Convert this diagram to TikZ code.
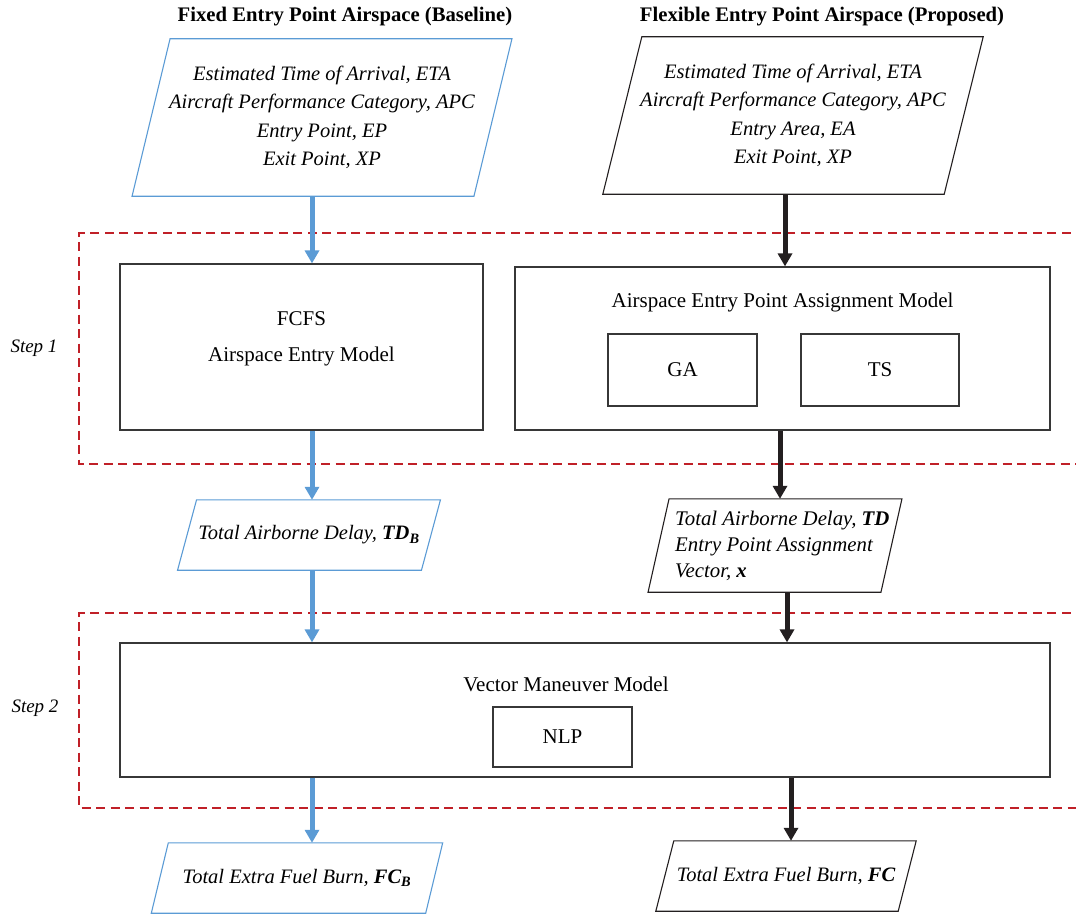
\documentclass[tikz,border=0pt]{standalone}
\usepackage{fontspec}
\setmainfont{Liberation Serif}
\usetikzlibrary{arrows.meta}
\definecolor{blueA}{RGB}{91,155,213}
\definecolor{redD}{RGB}{192,32,40}
\definecolor{darkA}{RGB}{35,31,32}
\definecolor{boxgray}{RGB}{55,55,55}
\newcommand\paradraw[3]{%
  \draw[#1] ([xshift=#3]#2.north west) -- ([xshift=#3]#2.north east)
    -- ([xshift=-#3]#2.south east) -- ([xshift=-#3]#2.south west) -- cycle;}
\tikzset{
  txt/.style={font=\fontsize{21}{28.5}\selectfont, inner sep=0pt, align=center},
  ttl/.style={font=\fontsize{20.7}{24}\selectfont\bfseries, inner sep=0pt},
  steplbl/.style={font=\fontsize{19}{22}\selectfont\itshape, inner sep=0pt},
  pbox/.style={txt, font=\fontsize{20.5}{28.5}\selectfont\itshape},
  mbox/.style={txt, draw=boxgray, line width=1.2pt},
  bluepara/.style={draw=blueA, line width=1.1pt},
  darkpara/.style={draw=darkA, line width=1.1pt},
  stepframe/.style={draw=redD, line width=2.5pt, dash pattern=on 9pt off 5.5pt},
  flowB/.style={draw=blueA, line width=5pt, -{Triangle[width=14pt,length=13pt]}},
  flowK/.style={draw=darkA, line width=5pt, -{Triangle[width=14pt,length=13pt]}},
}
\begin{document}
\begin{tikzpicture}[x=1pt,y=-1pt]
\useasboundingbox (0,0) rectangle (1076,915);
% step frames
\draw[stepframe] (1085,233) -- (79,233) -- (79,464) -- (1085,464);
\draw[stepframe] (1085,613) -- (79,613) -- (79,808) -- (1085,808);
\node[steplbl] (s1) at (34,348) {Step 1};
\node[steplbl] (s2) at (35,708) {Step 2};
% titles
\node[ttl] (t1) at (345,17) {Fixed Entry Point Airspace (Baseline)};
\node[ttl] (t2) at (822,17) {Flexible Entry Point Airspace (Proposed)};
% inputs
\node[pbox, minimum width=341.5pt, minimum height=157pt] (in1) at (322,117.5)
  {Estimated Time of Arrival, ETA\\Aircraft Performance Category, APC\\Entry Point, EP\\Exit Point, XP};
\paradraw{bluepara}{in1}{19pt}
\node[pbox, minimum width=341pt, minimum height=157pt] (in2) at (793,115.5)
  {Estimated Time of Arrival, ETA\\Aircraft Performance Category, APC\\Entry Area, EA\\Exit Point, XP};
\paradraw{darkpara}{in2}{19.5pt}
% step 1 models
\node[mbox, minimum width=363pt, minimum height=166pt] (fcfs) at (301.5,347) {};
\node[txt] (fcfst) at (301.5,339) {FCFS\\[8pt]Airspace Entry Model};
\node[mbox, minimum width=535pt, minimum height=163pt] (aepam) at (782.5,348.5) {};
\node[txt] (aepamt) at (782.5,302) {Airspace Entry Point Assignment Model};
\node[mbox, minimum width=149pt, minimum height=72pt] (ga) at (682.5,370) {GA};
\node[mbox, minimum width=158pt, minimum height=72pt] (ts) at (880,370) {TS};
% intermediate outputs
\node[pbox, minimum width=243.5pt, minimum height=70pt] (tdb) at (309,535)
  {Total Airborne Delay, \textbf{TD\textsubscript{B}}};
\paradraw{bluepara}{tdb}{9.5pt}
\node[minimum width=232.5pt, minimum height=93pt, inner sep=0pt] (td) at (775,545.5) {};
\paradraw{darkpara}{td}{10.5pt}
\node[pbox, align=left, anchor=west, font=\fontsize{20.8}{26}\selectfont\itshape] (tdt) at (675,546)
  {Total Airborne Delay, \textbf{TD}\\Entry Point Assignment\\Vector, \textbf{x}};
% step 2 model
\node[mbox, minimum width=930pt, minimum height=134pt] (vmm) at (585,710) {};
\node[txt] (vmmt) at (566,684) {Vector Maneuver Model};
\node[mbox, minimum width=139pt, minimum height=60pt] (nlp) at (562.5,737) {NLP};
% final outputs
\node[pbox, minimum width=274pt, minimum height=70pt] (fcb) at (297,878)
  {Total Extra Fuel Burn, \textbf{FC\textsubscript{B}}};
\paradraw{bluepara}{fcb}{8.5pt}
\node[pbox, minimum width=242pt, minimum height=70pt] (fc) at (786,876)
  {Total Extra Fuel Burn, \textbf{FC}};
\paradraw{darkpara}{fc}{9pt}
% column coordinates
\coordinate (cL) at (312,0);
\coordinate (cR1) at (785,0);
\coordinate (cR2) at (780,0);
\coordinate (cR3) at (787,0);
\coordinate (cR4) at (791,0);
% connectors
\draw[flowB] (in1.south -| cL) -- (fcfs.north -| cL);
\draw[flowB] (fcfs.south -| cL) -- (tdb.north -| cL);
\draw[flowB] (tdb.south -| cL) -- (vmm.north -| cL);
\draw[flowB] (vmm.south -| cL) -- (fcb.north -| cL);
\draw[flowK] (in2.south -| cR1) -- (aepam.north -| cR1);
\draw[flowK] (aepam.south -| cR2) -- (td.north -| cR2);
\draw[flowK] (td.south -| cR3) -- (vmm.north -| cR3);
\draw[flowK] (vmm.south -| cR4) -- (fc.north -| cR4);
\end{tikzpicture}
\end{document}
